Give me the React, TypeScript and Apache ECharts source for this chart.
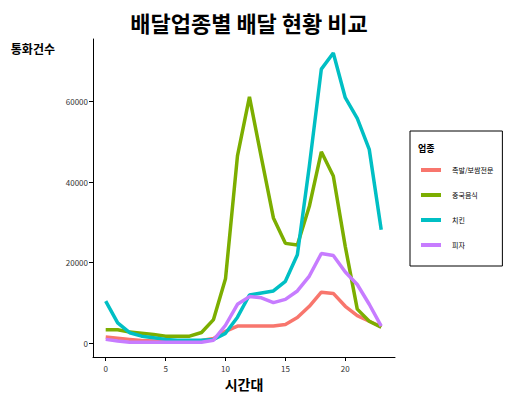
import React, { useEffect, useRef } from "react";
import * as echarts from "echarts";

const hours = [0, 1, 2, 3, 4, 5, 6, 7, 8, 9, 10, 11, 12, 13, 14, 15, 16, 17, 18, 19, 20, 21, 22, 23];
const categories = ["족발/보쌈전문", "중국음식", "치킨", "피자"];
const jokbal = [1600, 1300, 1000, 700, 600, 600, 600, 600, 700, 1200, 3000, 4300, 4300, 4300, 4300, 4700, 6400, 9200, 12700, 12400, 9200, 6900, 5500, 4100];
const chinese = [3400, 3400, 2800, 2500, 2200, 1800, 1800, 1800, 2700, 5900, 16000, 46500, 61100, 46000, 31100, 24800, 24400, 34000, 47500, 41500, 24000, 8500, 5500, 4000];
const chicken = [10500, 5100, 2650, 1800, 1400, 1000, 800, 800, 800, 1000, 2500, 6500, 12000, 12500, 13000, 15400, 22000, 44000, 68000, 72000, 60900, 55800, 48100, 28200];
const pizza = [1000, 600, 300, 300, 300, 300, 300, 300, 300, 800, 4500, 9700, 11600, 11300, 10100, 10900, 13000, 16700, 22300, 21800, 17700, 14600, 9700, 4300];
const seriesValues = [jokbal, chinese, chicken, pizza];
const colors = ["#F8766D", "#7CAE00", "#00BFC4", "#C77CFF"];
const xTicks = [0, 5, 10, 15, 20];
const yTicks = [0, 20000, 40000, 60000];

const FONT = "'Noto Sans CJK KR', 'Noto Sans', sans-serif";

export default function App() {
  const ref = useRef<HTMLDivElement>(null);
  useEffect(() => {
    document.body.style.margin = "0";
    if (!ref.current) return;
    const chart = echarts.init(ref.current, null, { renderer: "svg" });
    chart.setOption({
      animation: false,
      backgroundColor: "#ffffff",
      textStyle: { fontFamily: FONT },
      title: {
        text: "배달업종별 배달 현황 비교",
        left: 244,
        textAlign: "center",
        top: 6,
        textStyle: { fontSize: 22, fontWeight: "bold", color: "#000", fontFamily: FONT },
      },
      grid: { left: 93, top: 39, right: 114, bottom: 45, outerBoundsMode: "none", containLabel: false },
      xAxis: {
        type: "value",
        min: -1.06,
        max: 24.15,
        name: "시간대",
        nameLocation: "middle",
        nameGap: 20,
        nameTextStyle: { fontSize: 14, fontWeight: "bold", color: "#000", fontFamily: FONT },
        axisLine: { show: true, onZero: false, lineStyle: { color: "#000", width: 1 } },
        axisTick: { show: true, length: 4, lineStyle: { color: "#000" }, customValues: xTicks },
        axisLabel: { fontSize: 8, color: "#333", margin: 7, customValues: xTicks, fontFamily: FONT, formatter: (v: number) => String(v) },
        splitLine: { show: false },
      },
      yAxis: {
        type: "value",
        min: -3370,
        max: 75460,
        name: "통화건수",
        nameLocation: "end",
        nameGap: -9,
        nameTextStyle: {
          fontSize: 12,
          fontWeight: "bold",
          color: "#000",
          align: "right",
          verticalAlign: "middle",
          padding: [0, 38, 0, 0],
          fontFamily: FONT,
        },
        axisLine: { show: true, onZero: false, lineStyle: { color: "#000", width: 1 } },
        axisTick: { show: true, length: 4, lineStyle: { color: "#000" }, customValues: yTicks },
        axisLabel: { fontSize: 8, color: "#333", margin: 5, customValues: yTicks, fontFamily: FONT, formatter: (v: number) => String(v) },
        splitLine: { show: false },
      },
      legend: {
        orient: "vertical",
        left: 410,
        top: 131,
        padding: [34, 9, 16, 11],
        borderColor: "#000",
        borderWidth: 1,
        itemGap: 15,
        itemWidth: 20,
        itemHeight: 4,
        icon: "rect",
        data: categories,
        textStyle: { fontSize: 7, color: "#000", lineHeight: 10, padding: [0, 0, 0, 6], fontFamily: FONT },
      },
      graphic: [
        {
          type: "text",
          left: 418,
          top: 144,
          style: { text: "업종", fontSize: 9, fontWeight: "bold", fill: "#000", fontFamily: FONT },
        },
      ],
      series: categories.map((name, i) => ({
        name,
        type: "line",
        data: hours.map((h, j) => [h, seriesValues[i][j]]),
        showSymbol: false,
        symbol: "none",
        lineStyle: { color: colors[i], width: 3.5 },
        itemStyle: { color: colors[i] },
        z: 2 + i,
      })),
    });
    return () => chart.dispose();
  }, []);
  return <div ref={ref} style={{ width: 509, height: 402 }} />;
}
